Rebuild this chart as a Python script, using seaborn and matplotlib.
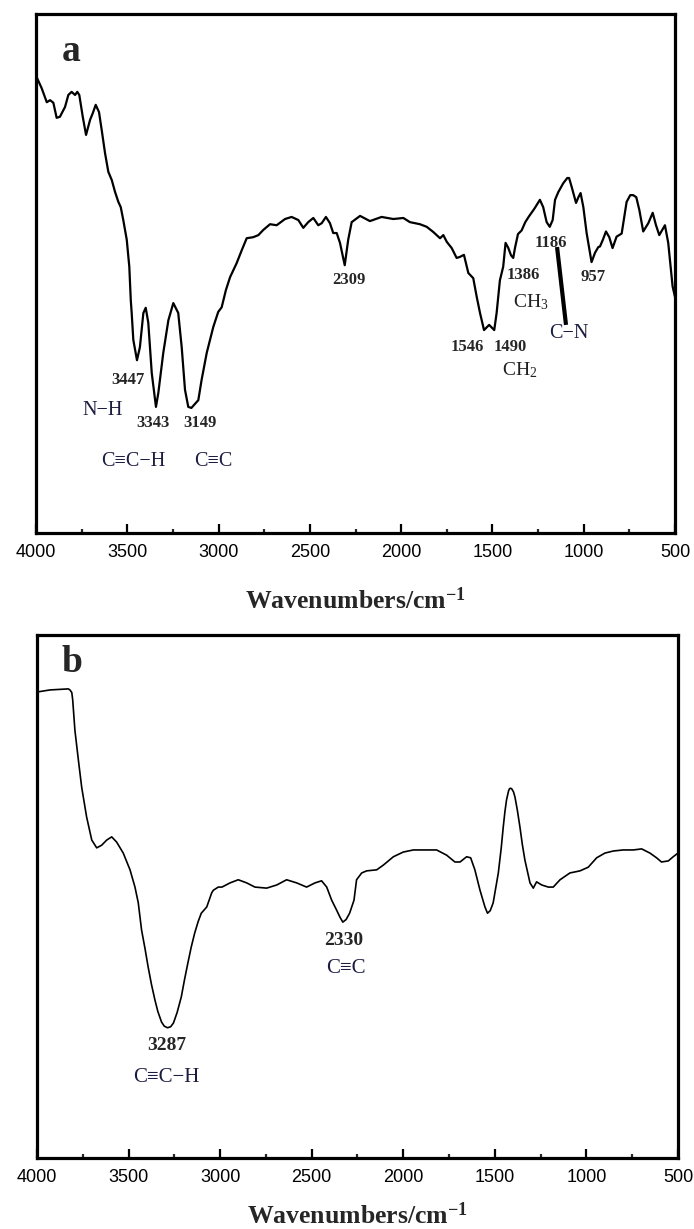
import numpy as np
import pandas as pd
import matplotlib
matplotlib.use("Agg")
import matplotlib.pyplot as plt
import seaborn as sns

# ---- FTIR spectrum (a): wavenumber (cm-1) and transmittance (a.u.) ----
wn_a = [4000, 3969, 3941, 3923, 3905, 3887, 3869, 3841, 3823, 3805, 3786, 3774,
        3763, 3744, 3726, 3704, 3689, 3673, 3655, 3640, 3622, 3604, 3585, 3567,
        3549, 3536, 3522, 3503, 3489, 3481, 3476, 3467, 3447, 3431, 3412, 3399,
        3385, 3366, 3343, 3330, 3303, 3275, 3248, 3221, 3202, 3184, 3166, 3149,
        3111, 3093, 3065, 3029, 3002, 2983, 2960, 2937, 2901, 2873, 2846, 2810,
        2782, 2755, 2718, 2682, 2636, 2600, 2563, 2536, 2509, 2481, 2454, 2435,
        2412, 2390, 2372, 2353, 2335, 2309, 2290, 2271, 2225, 2171, 2107, 2043,
        1988, 1952, 1897, 1860, 1824, 1787, 1769, 1750, 1723, 1696, 1678, 1656,
        1632, 1605, 1586, 1568, 1546, 1518, 1490, 1477, 1459, 1441, 1428, 1414,
        1398, 1386, 1376, 1360, 1340, 1320, 1300, 1270, 1240, 1222, 1203, 1186,
        1170, 1157, 1139, 1112, 1090, 1080, 1066, 1042, 1029, 1017, 1002, 984,
        957, 938, 920, 911, 895, 878, 860, 842, 820, 792, 765, 745, 729, 712,
        695, 674, 646, 622, 604, 586, 570, 555, 537, 524, 513, 500]
t_a = [88.1, 85.7, 83.0, 83.4, 82.9, 80.0, 80.2, 82.1, 84.4, 85.0, 84.4, 85.0,
       84.4, 80.2, 76.7, 79.6, 80.9, 82.5, 81.1, 77.6, 73.2, 69.6, 68.0, 65.7,
       63.8, 62.8, 60.3, 56.5, 51.3, 44.9, 42.4, 37.2, 33.3, 35.8, 42.4, 43.4,
       40.5, 30.8, 24.3, 27.0, 34.7, 41.0, 44.3, 42.4, 35.8, 27.6, 24.3, 24.1,
       25.6, 29.5, 34.7, 39.7, 42.6, 43.5, 46.8, 49.3, 52.0, 54.5, 56.8, 57.0,
       57.4, 58.4, 59.5, 59.3, 60.5, 60.9, 60.3, 58.8, 59.9, 60.7, 59.3, 59.7,
       60.9, 59.7, 57.8, 57.8, 55.9, 51.6, 56.5, 59.9, 61.1, 60.1, 60.9, 60.5,
       60.7, 59.9, 59.5, 59.0, 58.0, 56.8, 57.4, 56.1, 54.9, 53.0, 53.2, 53.6,
       50.1, 49.1, 45.5, 42.4, 39.1, 40.1, 39.1, 42.4, 48.7, 51.3, 55.9, 55.0,
       53.5, 53.0, 55.0, 57.6, 58.3, 59.9, 61.0, 62.5, 64.2, 62.8, 59.9, 59.0,
       60.3, 64.2, 65.7, 67.4, 68.4, 68.4, 66.7, 63.6, 64.7, 65.5, 62.8, 57.8,
       52.2, 54.0, 55.1, 55.2, 56.5, 58.1, 57.0, 54.9, 57.1, 57.7, 63.8, 65.1,
       65.1, 64.7, 62.2, 58.1, 59.7, 61.7, 59.3, 57.4, 58.4, 59.3, 55.9, 51.3,
       47.5, 45.5]

# ---- FTIR spectrum (b) ----
wn_b = [4000, 3929, 3829, 3820, 3810, 3805, 3793, 3774, 3756, 3729, 3701, 3674,
        3647, 3619, 3592, 3565, 3529, 3492, 3465, 3447, 3429, 3410, 3393, 3375,
        3356, 3340, 3320, 3305, 3287, 3270, 3255, 3235, 3212, 3195, 3176, 3158,
        3139, 3120, 3103, 3073, 3046, 3037, 3010, 2990, 2946, 2901, 2855, 2810,
        2746, 2691, 2637, 2582, 2528, 2482, 2446, 2418, 2391, 2364, 2345, 2330,
        2312, 2293, 2269, 2255, 2227, 2200, 2145, 2109, 2054, 2000, 1945, 1872,
        1818, 1763, 1718, 1690, 1654, 1632, 1609, 1581, 1554, 1540, 1525, 1509,
        1481, 1465, 1454, 1445, 1436, 1425, 1420, 1414, 1408, 1398, 1390, 1377,
        1363, 1350, 1336, 1308, 1290, 1272, 1244, 1208, 1181, 1144, 1090, 1035,
        990, 944, 899, 853, 799, 744, 698, 653, 617, 590, 553, 526, 500]
t_b = [89.1, 89.5, 89.7, 89.5, 89.0, 87.6, 81.8, 76.1, 70.9, 65.2, 60.8, 59.3,
       59.8, 60.8, 61.4, 60.4, 58.3, 55.1, 51.8, 48.8, 43.6, 40.0, 36.5, 33.2,
       30.2, 28.0, 26.0, 25.2, 24.9, 25.1, 25.8, 27.8, 30.8, 34.0, 37.3, 40.3,
       43.0, 45.2, 46.8, 48.0, 50.7, 51.2, 51.8, 51.8, 52.6, 53.2, 52.6, 51.8,
       51.6, 52.2, 53.2, 52.6, 51.8, 52.6, 53.0, 51.8, 49.3, 47.4, 46.0, 45.1,
       45.6, 46.8, 49.3, 53.2, 54.5, 54.9, 55.1, 56.0, 57.6, 58.5, 58.9, 58.9,
       58.9, 57.9, 56.6, 56.6, 57.6, 57.4, 55.1, 51.2, 48.0, 46.8, 47.3, 48.8,
       54.5, 59.3, 63.3, 66.2, 68.5, 70.2, 70.6, 70.7, 70.6, 70.0, 69.0, 66.5,
       63.3, 60.0, 57.0, 52.6, 51.6, 52.8, 52.2, 51.8, 51.8, 53.2, 54.5, 54.9,
       55.6, 57.4, 58.3, 58.7, 58.9, 58.9, 59.1, 58.3, 57.4, 56.6, 56.8, 57.6,
       58.3]

tick_major = [4000, 3500, 3000, 2500, 2000, 1500, 1000, 500]
tick_minor = [3750, 3250, 2750, 2250, 1750, 1250, 750]
xlabel_text = "Wavenumbers/cm$^{-1}$"

# peak labels: (text, wavenumber, transmittance)
peaks_a = [("2309", 2286, 48.7), ("1386", 1333, 49.7), ("1186", 1179, 55.9),
           ("957", 949, 49.3), ("1546", 1639, 35.8), ("1490", 1404, 35.8),
           ("3447", 3496, 29.5), ("3343", 3359, 21.2), ("3149", 3102, 21.2)]
groups_a = [("N\u2212H", 3633, 23.7), ("C\u2261C\u2212H", 3469, 13.7),
            ("C\u2261C", 3031, 13.7), ("C\u2212N", 1081, 38.5)]
alkyl_a = [("CH$_3$", 1289, 44.5), ("CH$_2$", 1349, 31.3)]
cn_pointer = ([1146, 1097], [55.1, 40.1])

peaks_b = [("2330", 2324, 41.5), ("3287", 3290, 21.6)]
groups_b = [("C\u2261C", 2313, 36.3), ("C\u2261C\u2212H", 3296, 15.3)]

sns.set_style("white")
plt.rcParams["mathtext.default"] = "regular"

SERIF = ["Liberation Serif", "DejaVu Serif"]
SANS = ["Liberation Sans", "DejaVu Sans"]
GROUP_COLOR = "#1c1c40"

fig = plt.figure(figsize=(6.94, 12.29), dpi=100)
fig.patch.set_facecolor("white")
ax_a = fig.add_axes([0.0519, 0.5663, 0.9207, 0.4223])
ax_b = fig.add_axes([0.0533, 0.0578, 0.9236, 0.4255])


def style_axis(ax, labelpad):
    ax.set_xlim(4000, 500)
    ax.set_ylim(0, 100)
    ax.set_xticks(tick_major)
    ax.set_xticks(tick_minor, minor=True)
    ax.set_xticklabels([str(t) for t in tick_major], fontfamily=SANS, fontsize=13)
    ax.set_yticks([])
    ax.tick_params(axis="x", which="major", direction="in", length=6.5, width=1.6,
                   pad=8, colors="black", bottom=True, top=False)
    ax.tick_params(axis="x", which="minor", direction="in", length=3.2, width=1.6,
                   bottom=True, top=False)
    for sp in ax.spines.values():
        sp.set_visible(True)
        sp.set_linewidth(2.3)
        sp.set_color("black")
    ax.set_xlabel(xlabel_text, fontfamily=SERIF, fontweight="bold", fontsize=18.5,
                  labelpad=labelpad)
    ax.set_ylabel("")
    ax.set_facecolor("white")


# spectrum (a)
df_a = pd.DataFrame({"wavenumber": wn_a, "T": t_a})
sns.lineplot(data=df_a, x="wavenumber", y="T", ax=ax_a, sort=False,
             estimator=None, color="black", linewidth=1.6)
style_axis(ax_a, labelpad=19)
ax_a.text(0.055, 0.927, "a", transform=ax_a.transAxes, fontfamily=SERIF,
          fontweight="bold", fontsize=27, ha="center", va="center")
for txt, x, y in peaks_a:
    ax_a.text(x, y, txt, fontfamily=SERIF, fontweight="bold", fontsize=12,
              ha="center", va="center")
for txt, x, y in groups_a:
    ax_a.text(x, y, txt, fontfamily=SERIF, fontsize=14.5, color=GROUP_COLOR,
              ha="center", va="center")
for txt, x, y in alkyl_a:
    ax_a.text(x, y, txt, fontfamily=SERIF, fontsize=14, color="#202020",
              ha="center", va="center")
ax_a.plot(cn_pointer[0], cn_pointer[1], color="black", linewidth=3,
          solid_capstyle="butt")

# spectrum (b)
df_b = pd.DataFrame({"wavenumber": wn_b, "T": t_b})
sns.lineplot(data=df_b, x="wavenumber", y="T", ax=ax_b, sort=False,
             estimator=None, color="black", linewidth=1.2)
style_axis(ax_b, labelpad=12)
ax_b.text(0.055, 0.948, "b", transform=ax_b.transAxes, fontfamily=SERIF,
          fontweight="bold", fontsize=27, ha="center", va="center")
for txt, x, y in peaks_b:
    ax_b.text(x, y, txt, fontfamily=SERIF, fontweight="bold", fontsize=14,
              ha="center", va="center")
for txt, x, y in groups_b:
    ax_b.text(x, y, txt, fontfamily=SERIF, fontsize=15, color=GROUP_COLOR,
              ha="center", va="center")

fig.savefig("out.png", dpi=100, facecolor="white")
